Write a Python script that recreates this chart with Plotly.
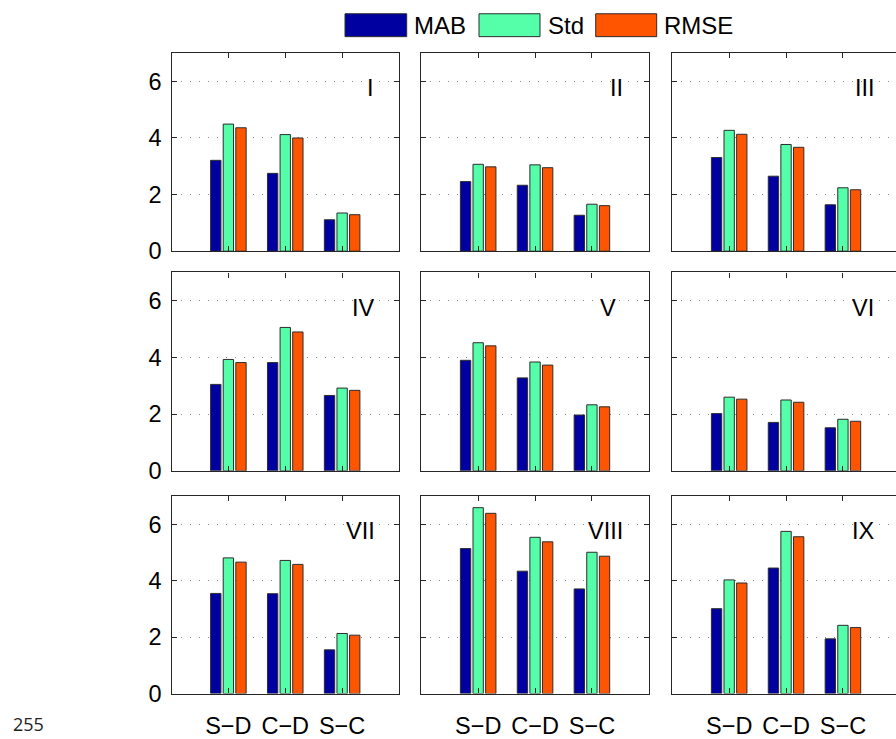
import plotly.graph_objects as go

W, H = 896, 739

categories = ["S\u2212D", "C\u2212D", "S\u2212C"]
series_names = ["MAB", "Std", "RMSE"]
panel_labels = ["I", "II", "III", "IV", "V", "VI", "VII", "VIII", "IX"]

# values per panel (I..IX), each list = [S-D, C-D, S-C]
mab = [[3.21, 2.75, 1.11], [2.46, 2.33, 1.27], [3.31, 2.65, 1.64],
       [3.05, 3.82, 2.66], [3.90, 3.28, 1.97], [2.02, 1.71, 1.52],
       [3.55, 3.54, 1.55], [5.14, 4.34, 3.71], [3.01, 4.45, 1.94]]
std = [[4.49, 4.12, 1.35], [3.07, 3.05, 1.66], [4.27, 3.77, 2.24],
       [3.93, 5.06, 2.92], [4.52, 3.84, 2.33], [2.60, 2.50, 1.82],
       [4.81, 4.72, 2.13], [6.59, 5.54, 5.01], [4.03, 5.75, 2.42]]
rmse = [[4.36, 4.00, 1.29], [2.98, 2.95, 1.61], [4.13, 3.67, 2.17],
        [3.82, 4.90, 2.84], [4.41, 3.73, 2.26], [2.53, 2.42, 1.75],
        [4.66, 4.58, 2.07], [6.39, 5.38, 4.87], [3.92, 5.56, 2.34]]
y_ticks = [0, 2, 4, 6]

colors = ["#0000A0", "#55FFAA", "#FF5500"]
FONT = "Liberation Sans, Arial, sans-serif"

# layout geometry (pixels)
col_px = [(171.5, 399.0), (421.3, 648.7), (672.3, 896.0)]
row_px = [(54.0, 255.7), (277.3, 479.3), (505.0, 706.0)]
unit = (399.0 - 171.5) / 4.0
label_x = [2.5, 2.44, 2.39, 2.37, 2.29, 2.35, 2.33, 2.23, 2.36]

fig = go.Figure()
all_series = [mab, std, rmse]

for p in range(9):
    r, c = divmod(p, 3)
    idx = "" if p == 0 else str(p + 1)
    for s in range(3):
        fig.add_trace(go.Bar(
            x=categories, y=all_series[s][p], name=series_names[s],
            marker=dict(color=colors[s], line=dict(color="rgb(45,45,45)", width=1)),
            xaxis="x" + idx, yaxis="y" + idx, showlegend=False))
    x0, x1 = col_px[c]
    y0, y1 = row_px[r]
    xr_end = -1 + (x1 - x0) / unit
    fig.layout["xaxis" + idx] = dict(
        domain=[x0 / W, x1 / W], range=[-1, xr_end], anchor="y" + idx,
        showline=True, linecolor="#262626", linewidth=1.2, mirror="ticks",
        ticks="inside", ticklen=5, tickcolor="#262626",
        showgrid=False, showticklabels=(r == 2), ticklabelstandoff=11,
        tickfont=dict(family=FONT, size=23.5, color="black"), fixedrange=True)
    fig.layout["yaxis" + idx] = dict(
        domain=[1 - y1 / H, 1 - y0 / H], range=[0, 7], anchor="x" + idx,
        showline=True, linecolor="#262626", linewidth=1.2,
        mirror=("ticks" if c < 2 else False),
        ticks="inside", ticklen=5, tickcolor="#262626", tickvals=y_ticks,
        showgrid=True, gridcolor="#8a8a8a", gridwidth=1, griddash="1px,8px",
        zeroline=False, showticklabels=(c == 0), ticklabelstandoff=4,
        tickfont=dict(family=FONT, size=23.5, color="black"), fixedrange=True)
    fig.add_annotation(x=label_x[p], y=5.75, xref="x" + idx, yref="y" + idx,
                       text=panel_labels[p], showarrow=False,
                       font=dict(family=FONT, size=23.5, color="black"),
                       xanchor="center", yanchor="middle")

# custom legend
sw_x = [(345.0, 406.7), (479.0, 540.0), (595.7, 656.7)]
txt_x = [412.0, 545.7, 662.3]
for s in range(3):
    fig.add_shape(type="rect", xref="paper", yref="paper",
                  x0=sw_x[s][0] / W, x1=sw_x[s][1] / W,
                  y0=1 - 37.3 / H, y1=1 - 14.0 / H,
                  fillcolor=colors[s], line=dict(color="rgb(45,45,45)", width=1))
    fig.add_annotation(x=txt_x[s] / W, y=1 - 26.0 / H, xref="paper", yref="paper",
                       text=series_names[s], showarrow=False, xanchor="left",
                       yanchor="middle",
                       font=dict(family=FONT, size=24, color="black"))

fig.add_annotation(x=11.0 / W, y=1 - 737.0 / H, xref="paper", yref="paper",
                   text="255", showarrow=False, xanchor="left", yanchor="middle",
                   font=dict(family="Open Sans, sans-serif", size=18, color="#222"))

fig.update_layout(width=W, height=H, margin=dict(l=0, r=0, t=0, b=0),
                  paper_bgcolor="white", plot_bgcolor="white",
                  barmode="group", bargap=0.335, bargroupgap=0.18,
                  showlegend=False)

fig.write_html("out.html")
